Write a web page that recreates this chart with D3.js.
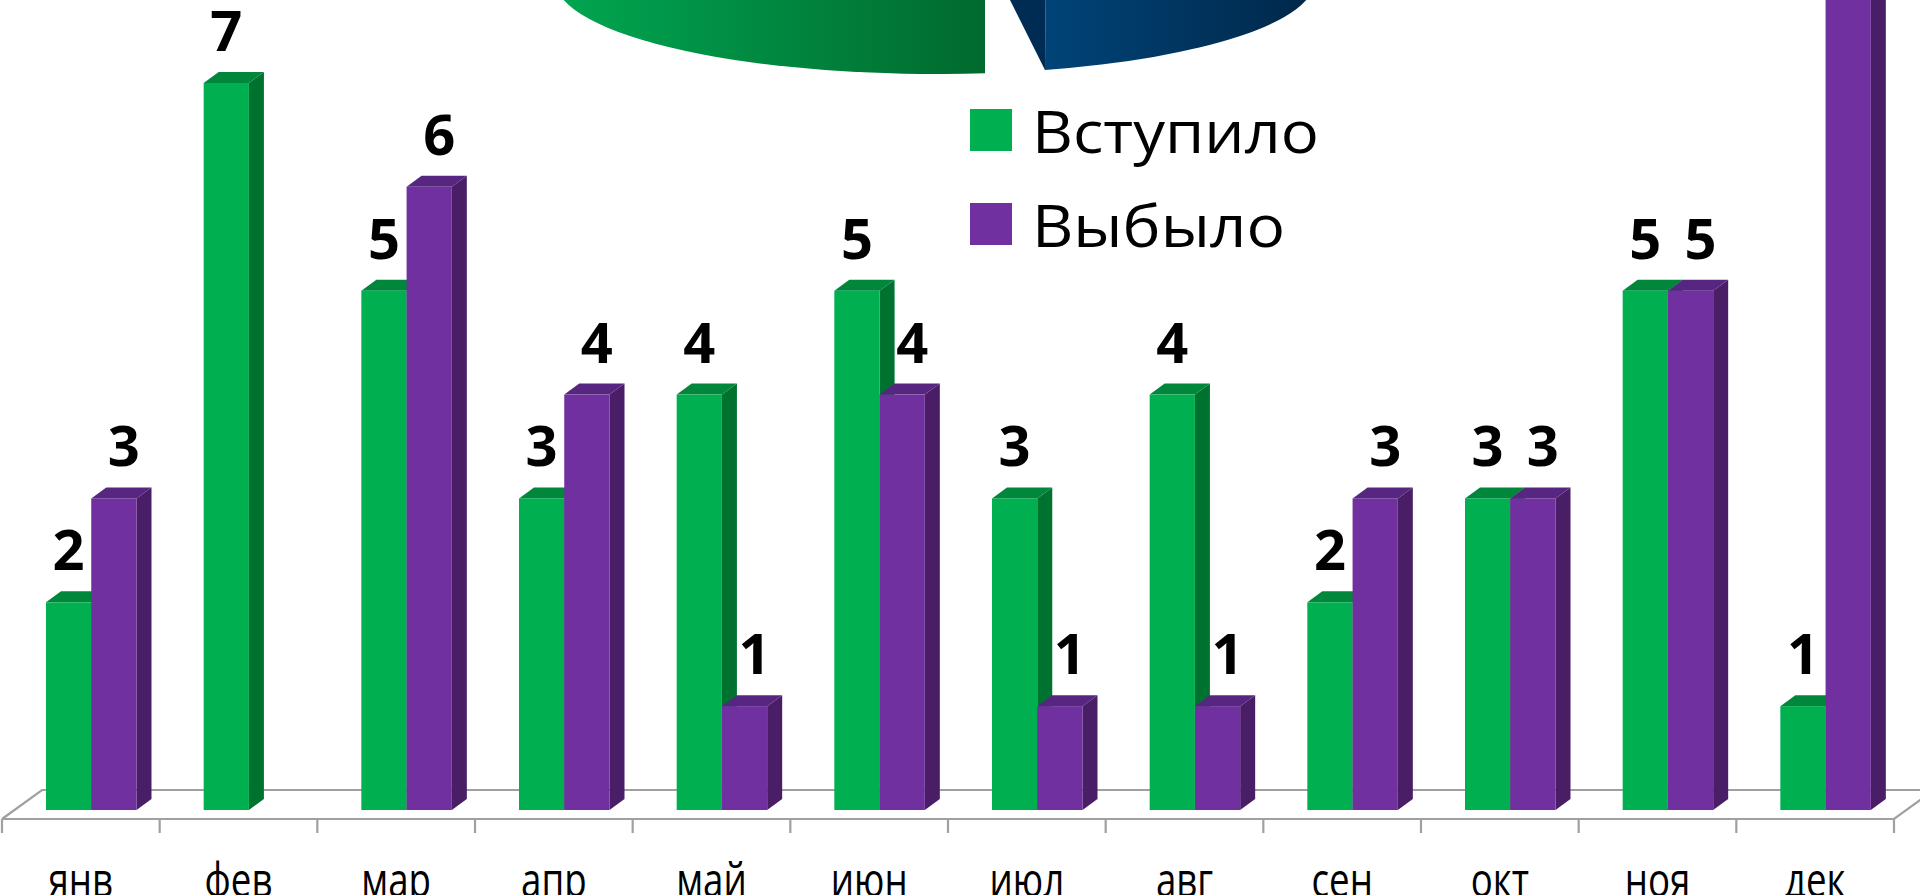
<!DOCTYPE html>
<html>
<head>
<meta charset="utf-8">
<script src="https://cdn.jsdelivr.net/npm/d3@7"></script>
<style>
  html, body { margin: 0; padding: 0; background: #ffffff; overflow: hidden; }
  svg { display: block; }
</style>
</head>
<body>
<svg id="chart" width="1920" height="895"></svg>
<script>
// ---------- data ----------
const months = ["янв", "фев", "мар", "апр", "май", "июн", "июл", "авг", "сен", "окт", "ноя", "дек"];
const joined = [2, 7, 5, 3, 4, 5, 3, 4, 2, 3, 5, 1];   // Вступило
const leftVals = [3, 0, 6, 4, 1, 4, 1, 1, 3, 3, 5, 8]; // Выбыло (дек. выходит за край кадра)
const seriesNames = ["Вступило", "Выбыло"];

// ---------- styles ----------
const faceColors = {
  "Вступило": { front: "#00B050", side: "#00722F", top: "#00873C" },
  "Выбыло":   { front: "#7030A0", side: "#4A1E66", top: "#572680" }
};
const DX = 15, DY = 11;            // bar depth
const FLOOR_FRONT = 819, FLOOR_BACK = 790, FLOOR_DX = 40;

const svg = d3.select("#chart");
const defs = svg.append("defs");

// ---------- scales ----------
const x = d3.scaleBand().domain(months).range([2, 1894]);
const xs = d3.scaleBand().domain(seriesNames).range([44, 134.5]);
const y = d3.scaleLinear().domain([0, 7]).range([810, 83]);

// ---------- partial 3D pie from the slide above (decoration) ----------
const pie = { cx: 935, cy: -20, rx: 380, ry: 94 };
const ellY = px => pie.cy + pie.ry * Math.sqrt(1 - Math.pow((px - pie.cx) / pie.rx, 2));

const gGreen = defs.append("linearGradient").attr("id", "pieGreen")
  .attr("gradientUnits", "userSpaceOnUse").attr("x1", 560).attr("x2", 985).attr("y1", 0).attr("y2", 0);
gGreen.append("stop").attr("offset", 0).attr("stop-color", "#00A651");
gGreen.append("stop").attr("offset", 1).attr("stop-color", "#006A2E");
const gBlue = defs.append("linearGradient").attr("id", "pieBlue")
  .attr("gradientUnits", "userSpaceOnUse").attr("x1", 1046).attr("x2", 1306).attr("y1", 0).attr("y2", 0);
gBlue.append("stop").attr("offset", 0).attr("stop-color", "#004478");
gBlue.append("stop").attr("offset", 1).attr("stop-color", "#00284A");

const gEdge = 985, bEdge = 1045;
const pGreen = d3.path();
pGreen.moveTo(gEdge, -40);
pGreen.lineTo(gEdge, ellY(gEdge));
svg.append("path")
  .attr("d", pGreen.toString() + ` A ${pie.rx} ${pie.ry} 0 0 1 ${pie.cx - pie.rx} ${pie.cy} L ${pie.cx - pie.rx} -40 Z`)
  .attr("fill", "url(#pieGreen)");

const pBlue = d3.path();
pBlue.moveTo(bEdge + 1, -40);
pBlue.lineTo(bEdge, ellY(bEdge));
svg.append("path")
  .attr("d", pBlue.toString() + ` A ${pie.rx} ${pie.ry} 0 0 0 ${pie.cx + pie.rx} ${pie.cy} L ${pie.cx + pie.rx} -40 Z`)
  .attr("fill", "url(#pieBlue)");
svg.append("path")
  .attr("d", d3.line()([[990, -40], [bEdge + 1, -40], [bEdge, ellY(bEdge)]]) + "Z")
  .attr("fill", "#002B52");

// ---------- floor ----------
const floor = svg.append("g").attr("stroke", "#A0A0A0").attr("stroke-width", 2.2).attr("fill", "none");
const x0 = x.range()[0], x1 = x.range()[1];
floor.append("path").attr("d", d3.line()([[x0, FLOOR_FRONT], [x0 + FLOOR_DX, FLOOR_BACK], [1930, FLOOR_BACK]]));
floor.append("path").attr("d", d3.line()([[x0, FLOOR_FRONT], [x1, FLOOR_FRONT], [x1 + FLOOR_DX, FLOOR_BACK]]));
const tickXs = months.map(m => x(m)).concat([x1]);
floor.selectAll("line.tick").data(tickXs).join("line")
  .attr("x1", d => d).attr("x2", d => d)
  .attr("y1", FLOOR_FRONT).attr("y2", FLOOR_FRONT + 14);

// ---------- bars ----------
const rows = [];
months.forEach((m, i) => {
  rows.push({ m, s: seriesNames[0], v: joined[i] });
  rows.push({ m, s: seriesNames[1], v: leftVals[i] });
});
const bars = svg.append("g");
rows.filter(d => d.v > 0).forEach(d => {
  const xl = x(d.m) + xs(d.s), w = xs.bandwidth();
  const yt = y(d.v), yb = y(0);
  const c = faceColors[d.s];
  const g = bars.append("g");
  g.append("path").attr("fill", c.side)
    .attr("d", d3.line()([[xl + w, yt], [xl + w + DX, yt - DY], [xl + w + DX, yb - DY], [xl + w, yb]]) + "Z");
  g.append("path").attr("fill", c.top)
    .attr("d", d3.line()([[xl, yt], [xl + DX, yt - DY], [xl + w + DX, yt - DY], [xl + w, yt]]) + "Z");
  g.append("rect").attr("fill", c.front)
    .attr("x", xl).attr("y", yt).attr("width", w).attr("height", yb - yt);
});

// ---------- value labels (the December "Выбыло" label lies above the frame, as in the slide) ----------
svg.append("g")
  .attr("font-family", "'Open Sans', 'Noto Sans', sans-serif")
  .attr("font-weight", 700).attr("font-size", 56).attr("fill", "#000")
  .attr("text-anchor", "middle")
  .selectAll("text").data(rows.filter(d => d.v > 0 && y(d.v) - 32 > 40)).join("text")
  .attr("x", d => x(d.m) + xs(d.s) + xs.bandwidth() / 2 + (d.s === seriesNames[1] ? 10 : 0))
  .attr("y", d => y(d.v) - 32)
  .text(d => d.v);

// ---------- category axis labels ----------
const axis = svg.append("g")
  .attr("transform", `translate(0, 897)`)
  .call(d3.axisBottom(x).tickSize(0).tickPadding(0));
axis.select(".domain").remove();
axis.selectAll("text")
  .attr("dy", 0).attr("y", 0)
  .attr("font-family", "'Open Sans', 'Noto Sans', sans-serif")
  .attr("font-size", 47).attr("fill", "#000")
  .each(function () {
    const len = this.getComputedTextLength();
    d3.select(this).attr("textLength", len * 0.78).attr("lengthAdjust", "spacingAndGlyphs");
  });

// ---------- legend ----------
const legendWidths = [287, 253];
const legend = svg.append("g");
seriesNames.forEach((s, i) => {
  const yy = 109 + i * 94;
  legend.append("rect").attr("x", 970).attr("y", yy).attr("width", 42).attr("height", 42)
    .attr("fill", faceColors[s].front);
  legend.append("text").attr("x", 1032).attr("y", yy + 44)
    .attr("font-family", "'Open Sans', 'Noto Sans', sans-serif")
    .attr("font-size", 58).attr("fill", "#000")
    .attr("textLength", legendWidths[i]).attr("lengthAdjust", "spacingAndGlyphs")
    .text(s);
});
</script>
</body>
</html>
